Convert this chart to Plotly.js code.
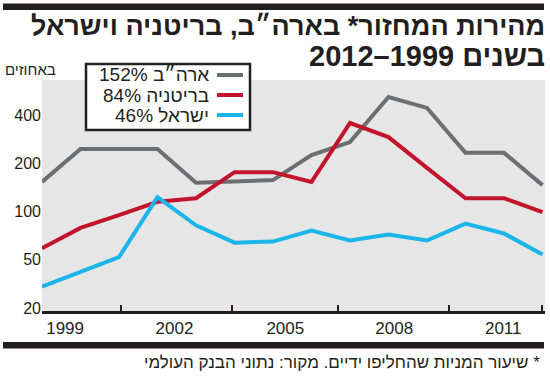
<!DOCTYPE html>
<html>
<head>
<meta charset="utf-8">
<script src="https://cdn.plot.ly/plotly-3.0.1.min.js"></script>
<style>
  html, body { margin: 0; padding: 0; background: #fff; }
  #chart { width: 550px; height: 376px; }
</style>
</head>
<body>
<div id="chart"></div>
<script>
// ---- data ----
const years = [1999, 2000, 2001, 2002, 2003, 2004, 2005, 2006, 2007, 2008, 2009, 2010, 2011, 2012];
const usa    = [153, 245, 245, 245, 151, 154, 157, 225, 271, 517, 442, 232, 232, 146];
const uk     = [59, 79, 95, 115, 121, 176, 176, 153, 356, 291, 187, 121, 121, 99];
const israel = [34, 42, 52, 123, 82, 64, 65, 76, 66, 72, 66, 84, 73, 54];
const seriesNames = ['ארה״ב', 'בריטניה', 'ישראל'];
const seriesAvg = ['152%', '84%', '46%'];
const seriesColors = ['#6d6e70', '#c2142c', '#1cb5e9'];
const xTickVals = [1999.6, 2002.44, 2005.32, 2008.15, 2010.98];
const xTickText = ['1999', '2002', '2005', '2008', '2011'];
const xTickMarks = [1999.0, 2001.06, 2003.94, 2006.7, 2009.58, 2011.99];
const yTickVals = [25, 50, 100, 200, 400];
const yTickText = ['20', '50', '100', '200', '400'];
const titleLines = ['מהירות המחזור* בארה״ב, בריטניה וישראל', 'בשנים 1999–2012'];
const unitText = 'באחוזים';
const noteText = '\u200F* שיעור המניות שהחליפו ידיים. מקור: נתוני הבנק העולמי';

// ---- geometry helpers ----
const W = 550, H = 376, L = 42, R = 5, T = 80, B = 65;
const pw = W - L - R, ph = H - T - B;
const px = p => (p - L) / pw;
const py = p => (H - B - p) / ph;

const txt = '#231f20';
const FONT = 'Liberation Sans, DejaVu Sans, sans-serif';

const seriesData = [usa, uk, israel];
const traces = seriesData.map((vals, i) => ({
  type: 'scatter', mode: 'lines', x: years, y: vals,
  name: seriesNames[i], showlegend: false,
  line: { color: seriesColors[i], width: 4, shape: 'linear' },
  hoverinfo: 'skip'
}));
// helper trace for the tick-mark axis
traces.push({ type: 'scatter', mode: 'markers', x: [years[0]], y: [usa[0]], xaxis: 'x2',
  marker: { opacity: 0 }, showlegend: false, hoverinfo: 'skip' });

const shapes = [
  // top & bottom black bars
  { type: 'rect', xref: 'paper', yref: 'paper', x0: px(3), x1: px(544), y0: py(10), y1: py(3.5),
    fillcolor: '#231f20', line: { width: 0 } },
  { type: 'rect', xref: 'paper', yref: 'paper', x0: px(3), x1: px(544), y0: py(348.5), y1: py(342),
    fillcolor: '#231f20', line: { width: 0 } },
  // legend box
  { type: 'rect', xref: 'paper', yref: 'paper', x0: px(86), x1: px(250), y0: py(130), y1: py(64),
    fillcolor: '#ffffff', line: { color: '#231f20', width: 2.5 } }
];
const annotations = [
  { xref: 'paper', yref: 'paper', x: px(547), y: py(26), xanchor: 'right', yanchor: 'middle',
    text: '<b>' + titleLines[0] + '</b>', showarrow: false,
    font: { family: FONT, size: 27, color: txt } },
  { xref: 'paper', yref: 'paper', x: px(547), y: py(56), xanchor: 'right', yanchor: 'middle',
    text: '<b>' + titleLines[1] + '</b>', showarrow: false,
    font: { family: FONT, size: 29, color: txt } },
  { xref: 'paper', yref: 'paper', x: px(3), y: py(70), xanchor: 'left', yanchor: 'middle',
    text: unitText, showarrow: false, font: { family: FONT, size: 15, color: txt } },
  { xref: 'paper', yref: 'paper', x: px(542), y: py(362), xanchor: 'right', yanchor: 'middle',
    text: noteText, showarrow: false, font: { family: FONT, size: 17, color: txt } }
];
const rowY = [75, 95, 115];
seriesNames.forEach((n, i) => {
  shapes.push({ type: 'line', xref: 'paper', yref: 'paper', x0: px(217), x1: px(243),
    y0: py(rowY[i]), y1: py(rowY[i]), line: { color: seriesColors[i], width: 4 } });
  annotations.push({ xref: 'paper', yref: 'paper', x: px(211), y: py(rowY[i]),
    xanchor: 'right', yanchor: 'middle', showarrow: false,
    text: n + ' ' + seriesAvg[i], font: { family: FONT, size: 19, color: txt } });
});

const xr = [1999, 1999 + (W - R - L) / 38.5];
const layout = {
  width: W, height: H,
  margin: { l: L, r: R, t: T, b: B, pad: 0 },
  paper_bgcolor: '#ffffff', plot_bgcolor: '#e6e6e7',
  showlegend: false,
  xaxis: { range: xr, tickvals: xTickVals, ticktext: xTickText, ticks: '',
    showgrid: false, zeroline: false, showline: true, linecolor: '#231f20', linewidth: 3,
    tickfont: { family: FONT, size: 17, color: txt }, fixedrange: true },
  xaxis2: { range: xr, overlaying: 'x', side: 'bottom', tickvals: xTickMarks,
    showticklabels: false, ticks: 'inside', ticklen: 6, tickwidth: 2, tickcolor: '#231f20',
    showgrid: false, zeroline: false, showline: false, fixedrange: true },
  yaxis: { type: 'log', range: [Math.log10(24), Math.log10(660)],
    tickvals: yTickVals, ticktext: yTickText, ticks: '', showgrid: false, zeroline: false,
    showline: false, tickfont: { family: FONT, size: 16, color: txt }, fixedrange: true },
  shapes: shapes, annotations: annotations
};
Plotly.newPlot('chart', traces, layout, { displayModeBar: false, staticPlot: true });
</script>
</body>
</html>
